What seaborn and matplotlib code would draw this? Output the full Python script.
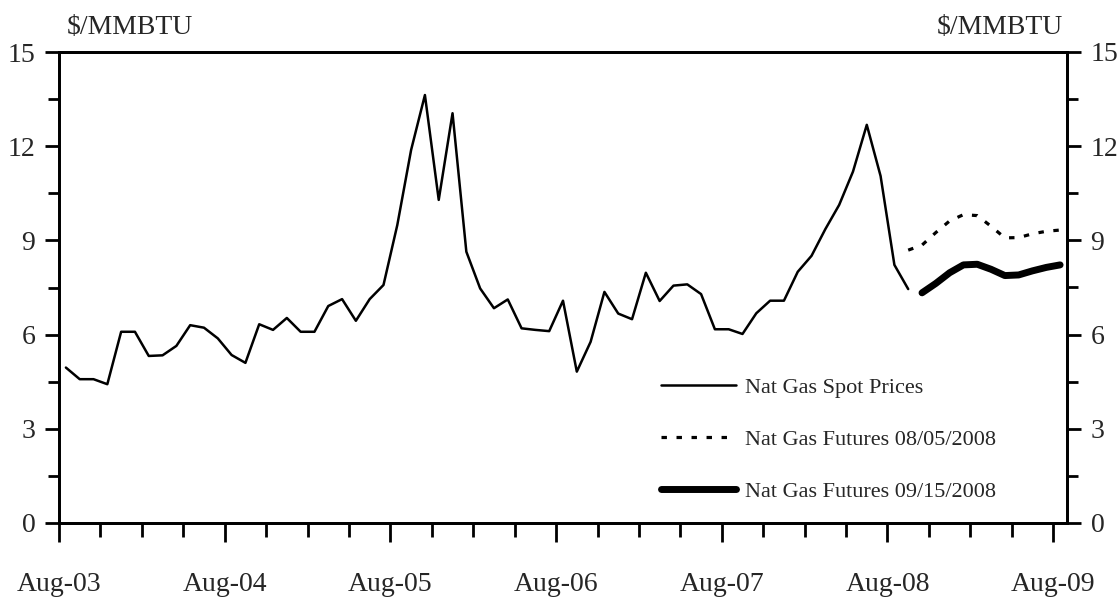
import matplotlib
matplotlib.use("Agg")
import matplotlib.pyplot as plt
import seaborn as sns
import pandas as pd
import numpy as np
from matplotlib.ticker import MultipleLocator, FixedLocator

# ---------------- data ----------------
year_labels = ["Aug-03", "Aug-04", "Aug-05", "Aug-06", "Aug-07", "Aug-08", "Aug-09"]

# monthly spot prices, Aug-03 .. Sep-08
spot_prices = [4.95, 4.58, 4.58, 4.42, 6.09, 6.09, 5.32, 5.34, 5.64, 6.30, 6.22, 5.88,
               5.35, 5.10, 6.33, 6.15, 6.53, 6.09, 6.09, 6.91, 7.13, 6.44, 7.13, 7.58,
               9.49, 11.88, 13.63, 10.29, 13.05, 8.64, 7.47, 6.84, 7.12, 6.20, 6.15, 6.11,
               7.08, 4.82, 5.77, 7.36, 6.67, 6.49, 7.97, 7.07, 7.56, 7.60, 7.29, 6.17,
               6.17, 6.02, 6.68, 7.08, 7.08, 8.00, 8.51, 9.36, 10.13, 11.19, 12.68, 11.05,
               8.22, 7.45]
spot_start = 0          # months after Aug-03

# futures curve 08/05/2008, Sep-08 .. Aug-09
fut_0805 = [8.69, 8.85, 9.25, 9.62, 9.82, 9.79, 9.45, 9.08, 9.09, 9.21, 9.29, 9.33]
fut_0805_start = 61

# futures curve 09/15/2008, Oct-08 .. Aug-09
fut_0915 = [7.33, 7.63, 7.97, 8.22, 8.24, 8.08, 7.88, 7.90, 8.03, 8.14, 8.22]
fut_0915_start = 62

series_names = ["Nat Gas Spot Prices", "Nat Gas Futures 08/05/2008", "Nat Gas Futures 09/15/2008"]


def make_df(vals, start):
    # points are centred in their month bucket
    return pd.DataFrame({"month": np.arange(len(vals)) + start + 0.5, "price": vals})


df_spot = make_df(spot_prices, spot_start)
df_f1 = make_df(fut_0805, fut_0805_start)
df_f2 = make_df(fut_0915, fut_0915_start)

# ---------------- style ----------------
sns.set_style("white")
plt.rcParams["font.family"] = ["Liberation Serif", "DejaVu Serif"]

W, H = 1120, 599
fig = plt.figure(figsize=(W / 100, H / 100), dpi=100)
L, R, T, B = 59, 1067, 52, 523
ax = fig.add_axes([L / W, 1 - B / H, (R - L) / W, (B - T) / H])

sns.lineplot(data=df_spot, x="month", y="price", ax=ax, color="black",
             linewidth=1.8, label=series_names[0])
sns.lineplot(data=df_f1, x="month", y="price", ax=ax, color="black",
             linewidth=2.3, linestyle=(0, (1.7, 3.0)), label=series_names[1])
sns.lineplot(data=df_f2, x="month", y="price", ax=ax, color="black",
             linewidth=5.0, solid_capstyle="round", label=series_names[2])

ax.set_xlim(0, 73)
ax.set_ylim(0, 15)
ax.set_xlabel("")
ax.set_ylabel("")

major_x = [12 * i for i in range(len(year_labels))]
ax.xaxis.set_major_locator(FixedLocator(major_x))
ax.set_xticklabels(year_labels)
ax.xaxis.set_minor_locator(FixedLocator([m for m in range(3, 73, 3) if m % 12 != 0]))
ax.yaxis.set_major_locator(MultipleLocator(3))
ax.yaxis.set_minor_locator(MultipleLocator(1.5))

ax.tick_params(axis="x", which="major", bottom=True, direction="out", length=14,
               width=2, color="black", labelsize=20, pad=21)
ax.tick_params(axis="x", which="minor", bottom=True, direction="out", length=10,
               width=2, color="black")
ax.tick_params(axis="y", which="major", left=True, direction="out", length=10,
               width=2, color="black", labelsize=20, pad=7)
ax.tick_params(axis="y", which="minor", left=True, direction="out", length=8,
               width=2, color="black")

for s in ax.spines.values():
    s.set_visible(True)
    s.set_color("black")
    s.set_linewidth(2)

ax2 = ax.twinx()
ax2.set_ylim(0, 15)
ax2.yaxis.set_major_locator(MultipleLocator(3))
ax2.yaxis.set_minor_locator(MultipleLocator(1.5))
ax2.tick_params(axis="y", which="major", right=True, direction="out", length=10,
                width=2, color="black", labelsize=20, pad=7)
ax2.tick_params(axis="y", which="minor", right=True, direction="out", length=8,
                width=2, color="black")
for s in ax2.spines.values():
    s.set_color("black")
    s.set_linewidth(2)
ax2.grid(False)

leg = ax.legend(loc="upper left", bbox_to_anchor=(0.597, 0.309), frameon=False,
                fontsize=16, handlelength=3.4, handletextpad=0.4,
                labelspacing=1.42, borderpad=0, borderaxespad=0)

fig.text(67 / W, 1 - 28 / H, r"\$/MMBTU", fontsize=20, ha="left", va="center")
fig.text(1063 / W, 1 - 28 / H, r"\$/MMBTU", fontsize=20, ha="right", va="center")

fig.savefig("out.png", dpi=100)
